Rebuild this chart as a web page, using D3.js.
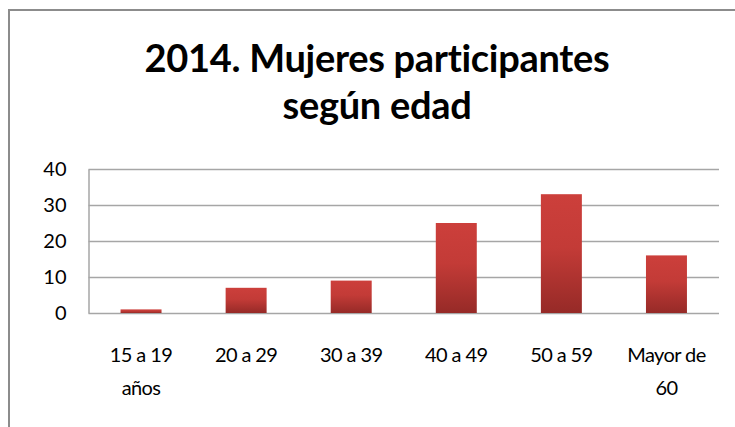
<!DOCTYPE html>
<html>
<head>
<meta charset="utf-8">
<script src="https://cdn.jsdelivr.net/npm/d3@7"></script>
<style>
  body { margin: 0; background: #fff; }
  svg { display: block; }
</style>
</head>
<body>
<div id="container"></div>
<script>
// chart data
const categories = ["15 a 19|años", "20 a 29", "30 a 39", "40 a 49", "50 a 59", "Mayor de|60"];
const values = [1, 7, 9, 25, 33, 16];
const yTicks = [0, 10, 20, 30, 40];
const titleLines = ["2014. Mujeres participantes", "según edad"];

const width = 735;
const height = 427;
const marginTop = 169;
const marginRight = 16;
const marginBottom = 114;
const marginLeft = 88.5;
const font = "Lato, 'Open Sans', sans-serif";

const svg = d3.select("#container").append("svg")
    .attr("width", width)
    .attr("height", height);

// frame around the chart
svg.append("rect")
    .attr("x", 9).attr("y", 10)
    .attr("width", width + 20).attr("height", height + 20)
    .attr("fill", "#fff")
    .attr("stroke", "#8c8c8c")
    .attr("stroke-width", 2);

const grad = svg.append("defs").append("linearGradient")
    .attr("id", "barGrad")
    .attr("x1", 0).attr("y1", 0).attr("x2", 0).attr("y2", 1);
grad.append("stop").attr("offset", "0%").attr("stop-color", "#cc3f3b");
grad.append("stop").attr("offset", "45%").attr("stop-color", "#c33b37");
grad.append("stop").attr("offset", "100%").attr("stop-color", "#962a27");

// title
svg.append("text")
    .attr("x", 377)
    .attr("font-family", font)
    .attr("font-weight", "bold")
    .attr("font-size", 38)
    .attr("letter-spacing", -0.3)
    .attr("text-anchor", "middle")
    .attr("fill", "#000")
    .selectAll("tspan")
    .data(titleLines)
    .join("tspan")
    .attr("x", 377)
    .attr("y", (d, i) => 72 + i * 47)
    .text(d => d);

const x = d3.scaleBand()
    .domain(categories)
    .range([marginLeft, width - marginRight])
    .paddingInner(0.61)
    .paddingOuter(0.305);

const y = d3.scaleLinear()
    .domain([0, 40])
    .range([height - marginBottom, marginTop]);

// gridlines
svg.append("g")
    .selectAll("line")
    .data(yTicks)
    .join("line")
    .attr("x1", marginLeft)
    .attr("x2", width - marginRight)
    .attr("y1", d => Math.round(y(d)) + 0.5)
    .attr("y2", d => Math.round(y(d)) + 0.5)
    .attr("stroke", "#a6a6a6")
    .attr("stroke-width", 1.5);

// y axis
const yAxis = svg.append("g")
    .attr("transform", `translate(${marginLeft}, 0)`)
    .call(d3.axisLeft(y).tickValues(yTicks).tickSize(0).tickPadding(22));
yAxis.select(".domain").attr("stroke", "#a6a6a6").attr("stroke-width", 1.5);
yAxis.selectAll("text")
    .attr("font-family", font)
    .attr("font-size", 20)
    .attr("fill", "#000");

// bars
svg.append("g")
    .selectAll("rect")
    .data(values)
    .join("rect")
    .attr("x", (d, i) => x(categories[i]))
    .attr("y", d => y(d))
    .attr("width", x.bandwidth())
    .attr("height", d => y(0) - y(d))
    .attr("fill", "url(#barGrad)");

// x axis labels
const xAxis = svg.append("g")
    .attr("transform", `translate(0, ${y(0)})`)
    .call(d3.axisBottom(x).tickSize(0).tickFormat(""));
xAxis.select(".domain").remove();

xAxis.selectAll(".tick")
    .append("text")
    .attr("font-family", font)
    .attr("font-size", 20)
    .attr("letter-spacing", -0.6)
    .attr("fill", "#000")
    .attr("text-anchor", "middle")
    .selectAll("tspan")
    .data(d => d.split("|"))
    .join("tspan")
    .attr("x", 0)
    .attr("y", (d, i) => 49 + i * 33)
    .text(d => d);
</script>
</body>
</html>
